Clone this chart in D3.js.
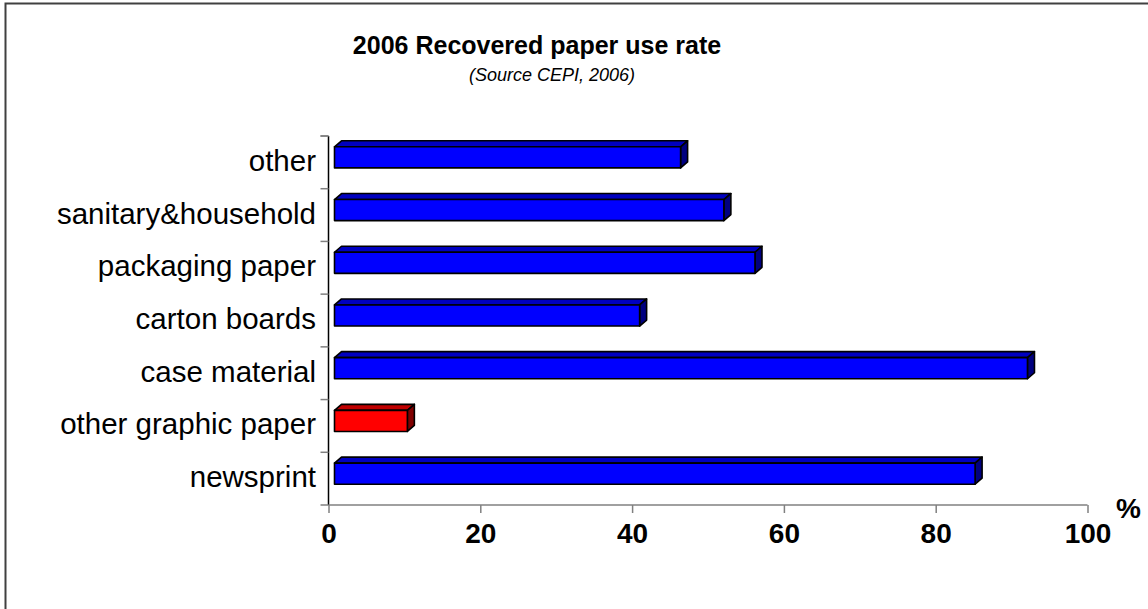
<!DOCTYPE html>
<html><head><meta charset="utf-8">
<script src="https://cdn.jsdelivr.net/npm/d3@7"></script>
<style>body{margin:0;background:#fff}svg{display:block;font-family:"Liberation Sans",Arial,sans-serif}</style>
</head><body>
<svg id="c" width="1148" height="609"></svg>
<script>
const categories = ["newsprint","other graphic paper","case material","carton boards","packaging paper","sanitary&household","other"];
const values = [84.4, 9.6, 91.3, 40.2, 55.4, 51.3, 45.6];
const highlight = ["other graphic paper"];
const xTicks = [0,20,40,60,80,100];
const title = "2006 Recovered paper use rate";
const subtitle = "(Source CEPI, 2006)";
const unit = "%";

const svg = d3.select("#c");
svg.append("rect").attr("x",5.5).attr("y",3.5).attr("width",1300).attr("height",800)
  .attr("fill","#fff").attr("stroke","#404040").attr("stroke-width",2);

const x = d3.scaleLinear().domain([0,100]).range([328.5,1087.5]);
const y = d3.scaleBand().domain(categories.slice().reverse()).range([136,505]);

// shift of the bar (mid depth) and bar depth
const sx = 6, sy = -5, dx = 7, dy = -6;

const gBars = svg.append("g");
categories.forEach((c,i)=>{
  const v = values[i];
  const red = highlight.includes(c);
  const front = red ? "#ff0000" : "#0000ff";
  const top = red ? "#c00000" : "#0000c0";
  const side = red ? "#800000" : "#000080";
  const x0 = x(0)+sx, x1 = x(v)+sx;
  const bh = y.bandwidth()*0.4;
  const y0 = y(c) + y.bandwidth()/2 - bh/2 + sy, y1 = y0 + bh;
  const g = gBars.append("g").attr("stroke","#000").attr("stroke-width",1.6).attr("stroke-linejoin","round");
  g.append("path").attr("fill",top)
    .attr("d",`M${x0},${y0}L${x0+dx},${y0+dy}L${x1+dx},${y0+dy}L${x1},${y0}Z`);
  g.append("path").attr("fill",side)
    .attr("d",`M${x1},${y0}L${x1+dx},${y0+dy}L${x1+dx},${y1+dy}L${x1},${y1}Z`);
  g.append("rect").attr("fill",front).attr("x",x0).attr("y",y0).attr("width",x1-x0).attr("height",bh);
});

// y axis
const yAxis = svg.append("g");
yAxis.append("line").attr("x1",x(0)).attr("x2",x(0)).attr("y1",136).attr("y2",505).attr("stroke","#000").attr("stroke-width",1.5);
const bounds = categories.map(c=>y(c)).concat([y.range()[0], y.range()[1]]);
yAxis.selectAll("line.t").data(bounds).join("line").attr("class","t")
  .attr("x1",x(0)-8).attr("x2",x(0)).attr("y1",d=>d).attr("y2",d=>d)
  .attr("stroke","#808080").attr("stroke-width",1.5);
yAxis.selectAll("text").data(categories).join("text")
  .attr("x",316).attr("y",d=>y(d)+y.bandwidth()/2-2)
  .attr("text-anchor","end").attr("dominant-baseline","central")
  .attr("font-size",29.5).attr("fill","#000").text(d=>d);

// x axis
const xa = svg.append("g").attr("transform","translate(0,505)")
  .call(d3.axisBottom(x).tickValues(xTicks).tickSize(8).tickPadding(10).tickFormat(d3.format("d")));
xa.select(".domain").attr("stroke","#808080").attr("stroke-width",1.5).attr("d",`M${x(0)},0H${x(100)}`);
xa.selectAll(".tick line").attr("stroke","#808080").attr("stroke-width",1.5);
xa.selectAll(".tick text").attr("font-size",28).attr("font-weight","bold").attr("fill","#000")
  .attr("font-family","Liberation Sans, Arial, sans-serif");

svg.append("text").attr("x",1116).attr("y",518).attr("font-size",28).attr("font-weight","bold").text(unit);

svg.append("text").attr("x",537).attr("y",54).attr("text-anchor","middle")
  .attr("font-size",25).attr("font-weight","bold").text(title);
svg.append("text").attr("x",552).attr("y",81).attr("text-anchor","middle")
  .attr("font-size",18).attr("font-style","italic").text(subtitle);
</script>
</body></html>
